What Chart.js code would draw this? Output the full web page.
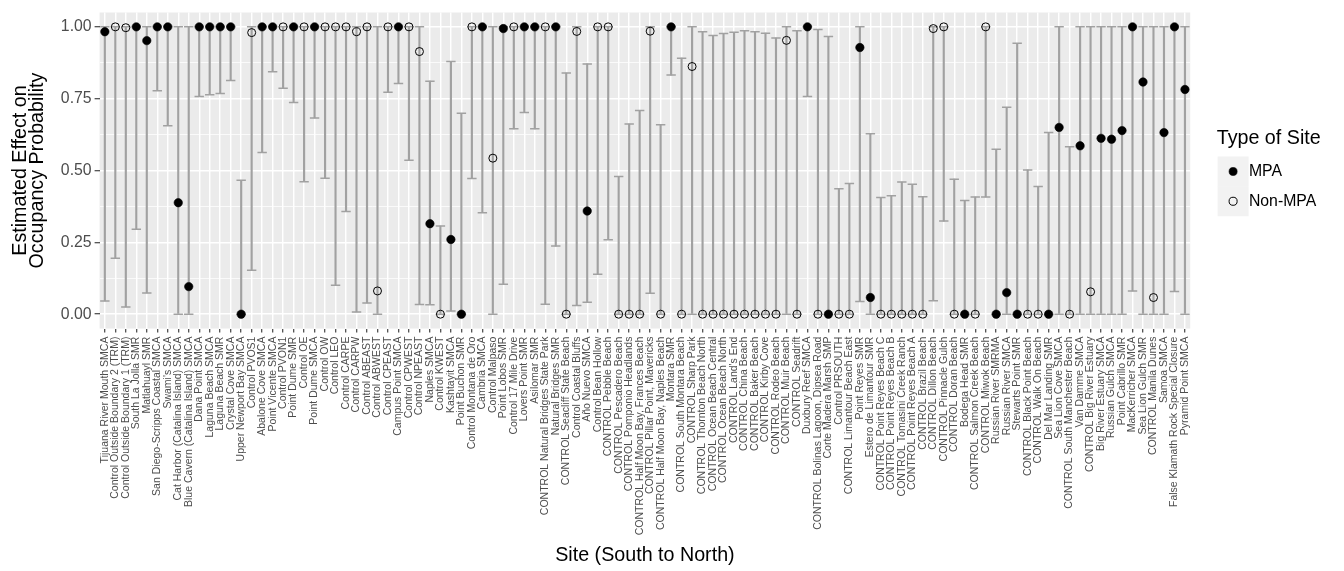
<!DOCTYPE html>
<html><head><meta charset="utf-8">
<script src="https://cdn.jsdelivr.net/npm/chart.js@4.4.1/dist/chart.umd.min.js"></script>
<style>html,body{margin:0;padding:0;background:#fff}#wrap{width:1344px;height:571px;position:relative}</style>
</head><body><div id="wrap"><canvas id="c"></canvas></div>
<script>
const sites = [
"Tijuana River Mouth SMCA","Control Outside Boundary 2 (TRM)","Control Outside Boundary 1 (TRM)","South La Jolla SMR","Matlahuayl SMR",
"San Diego-Scripps Coastal SMCA","Swami's SMCA","Cat Harbor (Catalina Island) SMCA","Blue Cavern (Catalina Island) SMCA","Dana Point SMCA",
"Laguna Beach SMCA","Laguna Beach SMR","Crystal Cove SMCA","Upper Newport Bay SMCA","Control PVOS1",
"Abalone Cove SMCA","Point Vicente SMCA","Control PVON1","Point Dume SMR","Control OE",
"Point Dume SMCA","Control OW","Control LEO","Control CARPE","Control CARPW",
"Control ABEAST","Control ABWEST","Control CPEAST","Campus Point SMCA","Control CPWEST",
"Control NPEAST","Naples SMCA","Control KWEST","Kashtayit SMCA","Point Buchon SMR",
"Control Montana de Oro","Cambria SMCA","Control Malpaso","Point Lobos SMR","Control 17 Mile Drive",
"Lovers Point SMR","Asilomar SMR","CONTROL Natural Bridges State Park","Natural Bridges SMR","CONTROL Seacliff State Beach",
"Control Coastal Bluffs","Año Nuevo SMCA","Control Bean Hollow","CONTROL Pebble Beach","CONTROL Pescadero Beach",
"CONTROL Pomponio Headlands","CONTROL Half Moon Bay, Frances Beach","CONTROL Pillar Point, Mavericks","CONTROL Half Moon Bay, Naples Beach","Montara SMR",
"CONTROL South Montara Beach","CONTROL Sharp Park","CONTROL Thornton Beach North","CONTROL Ocean Beach Central","CONTROL Ocean Beach North",
"CONTROL Land's End","CONTROL China Beach","CONTROL Baker Beach","CONTROL Kirby Cove","CONTROL Rodeo Beach",
"CONTROL Muir Beach","CONTROL Seadrift","Duxbury Reef SMCA","CONTROL Bolinas Lagoon, Dipsea Road","Corte Madera Marsh SMP",
"Control PRSOUTH","CONTROL Limantour Beach East","Point Reyes SMR","Estero de Limantour SMR","CONTROL Point Reyes Beach C",
"CONTROL Point Reyes Beach B","CONTROL Tomasini Creek Ranch","CONTROL Point Reyes Beach A","CONTROL Brazil Beach","CONTROL Dillon Beach",
"CONTROL Pinnacle Gulch","CONTROL Doran Beach","Bodega Head SMR","CONTROL Salmon Creek Beach","CONTROL Miwok Beach",
"Russian River SMRMA","Russian River SMCA","Stewarts Point SMR","CONTROL Black Point Beach","CONTROL Walk On Beach",
"Del Mar Landing SMR","Sea Lion Cove SMCA","CONTROL South Manchester Beach","Van Damme SMCA","CONTROL Big River Estuary",
"Big River Estuary SMCA","Russian Gulch SMCA","Point Cabrillo SMR","MacKerricher SMCA","Sea Lion Gulch SMR",
"CONTROL Manila Dunes","Samoa SMCA","False Klamath Rock Special Closure","Pyramid Point SMCA"
];
const M = "MPA", N = "Non-MPA";
const siteType = [
M,N,N,M,M,M,M,M,M,M,
M,M,M,M,N,M,M,N,M,N,
M,N,N,N,N,N,N,N,M,N,
N,M,N,M,M,N,M,N,M,N,
M,M,N,M,N,N,M,N,N,N,
N,N,N,N,M,N,N,N,N,N,
N,N,N,N,N,N,N,M,N,M,
N,N,M,M,N,N,N,N,N,N,
N,N,M,N,N,M,M,M,N,N,
M,M,N,M,N,M,M,M,M,M,
N,M,M,M
];
const estimate = [
0.983,1,0.997,1,0.952,1,1,0.388,0.096,1,
1,1,1,0,0.98,1,1,1,1,1,
1,1,1,1,0.983,1,0.081,1,1,1,
0.914,0.315,0,0.26,0,1,1,0.543,0.994,1,
1,1,1,1,0,0.984,0.359,1,1,0,
0,0,0.985,0,1,0,0.862,0,0,0,
0,0,0,0,0,0.953,0,1,0,0,
0,0,0.928,0.058,0,0,0,0,0,0.994,
1,0,0,0,1,0,0.075,0,0,0,
0,0.65,0,0.586,0.078,0.612,0.609,0.639,1,0.808,
0.058,0.632,1,0.782
];
const lower = [
0.046,0.195,0.025,0.296,0.074,0.778,0.656,0,0,0.758,
0.764,0.768,0.813,0,0.153,0.563,0.844,0.786,0.737,0.461,
0.683,0.473,0.101,0.357,0.008,0.039,0,0.772,0.803,0.536,
0.034,0.033,0,0.011,0,0.472,0.353,0,0.104,0.645,
0.702,0.645,0.035,0.237,0,0.03,0.042,0.139,0.259,0,
0,0,0.073,0,0.832,0,0,0,0,0,
0,0,0,0,0,0,0,0.758,0,0,
0,0,0.044,0,0,0,0,0,0,0.047,
0.324,0,0,0,0.408,0,0,0,0,0,
0,0,0,0,0,0,0,0,0.081,0,
0,0,0.079,0
];
const upper = [
1,1,1,1,1,1,1,1,1,1,
1,1,1,0.466,1,1,1,1,1,1,
1,1,1,1,1,1,1,1,1,1,
1,0.811,0.307,0.879,0.699,1,1,1,1,1,
1,1,1,1,0.839,1,0.871,1,1,0.479,
0.662,0.709,1,0.659,1,0.891,1,0.983,0.970,0.977,
0.981,0.986,0.983,0.978,0.961,1,0.986,1,0.991,0.966,
0.437,0.455,1,0.628,0.406,0.412,0.46,0.452,0.409,1,
1,0.47,0.396,0.408,1,0.574,0.72,0.943,0.502,0.444,
0.632,1,0.583,1,1,1,1,1,1,1,
1,1,1,1
];
const yMajorTicks = [0, 0.25, 0.5, 0.75, 1];
const yMinorTicks = [0.125, 0.375, 0.625, 0.875];

const FONT = "'Liberation Sans', Arial, sans-serif";
Chart.defaults.font.family = FONT;
const GREY = '#A1A1A1';
const LEGEND_FS = 15.8;

const mpaVals = estimate.map((v, i) => siteType[i] === M ? v : null);
const nonVals = estimate.map((v, i) => siteType[i] === N ? v : null);
const barVals = lower.map((lo, i) => [lo, upper[i]]);
const allYTicks = yMajorTicks.concat(yMinorTicks).sort((a, b) => a - b);
const isMajor = v => yMajorTicks.some(m => Math.abs(m - v) < 1e-9);

const panelBg = {
  id: 'panelBg',
  beforeDraw(chart) {
    const {ctx, chartArea: a} = chart;
    ctx.save();
    ctx.fillStyle = '#EBEBEB';
    ctx.fillRect(a.left, a.top, a.right - a.left, a.bottom - a.top);
    const lg = chart.legend;
    if (lg && lg.legendHitBoxes) {
      ctx.fillStyle = '#F2F2F2';
      const bw = LEGEND_FS;
      lg.legendHitBoxes.forEach(hb => {
        const cx = hb.left + bw / 2, cy = hb.top + LEGEND_FS / 2;
        ctx.fillRect(cx - 15.5, cy - 15, 31, 30);
      });
    }
    ctx.restore();
  }
};

new Chart(document.getElementById('c'), {
  type: 'bar',
  data: {
    labels: sites,
    datasets: [
      { type: 'line', label: 'MPA', data: mpaVals, showLine: false, pointStyle: 'circle',
        pointRadius: 4.2, borderWidth: 0.6, backgroundColor: '#000', borderColor: '#000', order: 0 },
      { type: 'line', label: 'Non-MPA', data: nonVals, showLine: false, pointStyle: 'circle',
        pointRadius: 4, borderWidth: 1, backgroundColor: 'rgba(0,0,0,0)', borderColor: '#000', order: 1 },
      { type: 'line', label: 'upper', data: upper, showLine: false, pointStyle: 'line',
        pointRadius: 4.7, borderWidth: 1.5, borderColor: GREY, backgroundColor: GREY, order: 2 },
      { type: 'line', label: 'lower', data: lower, showLine: false, pointStyle: 'line',
        pointRadius: 4.7, borderWidth: 1.5, borderColor: GREY, backgroundColor: GREY, order: 2 },
      { type: 'bar', label: 'interval', data: barVals, backgroundColor: GREY, borderWidth: 0,
        barThickness: 1.5, order: 3 }
    ]
  },
  options: {
    responsive: true, maintainAspectRatio: false, animation: false, events: [],
    layout: { padding: { left: 11.4, top: 10.4, right: 17.8, bottom: 4 } },
    plugins: {
      tooltip: { enabled: false },
      legend: {
        position: 'right', align: 'center', fullSize: false,
        title: { display: true, text: 'Type of Site', color: '#000', position: 'center',
          font: { size: 19.7, lineHeight: 1 }, padding: { top: 11, bottom: 1 } },
        labels: { usePointStyle: true, boxHeight: 5.7, padding: 14, color: '#000',
          font: { size: LEGEND_FS }, filter: item => item.text === 'MPA' || item.text === 'Non-MPA' }
      }
    },
    scales: {
      x: {
        type: 'category', offset: true,
        grid: { offset: false, color: '#FFFFFF', lineWidth: 1.45, tickColor: '#333333', tickWidth: 1.1, tickLength: 4 },
        border: { display: false },
        ticks: { autoSkip: false, minRotation: 90, maxRotation: 90, color: '#4D4D4D', font: { size: 10.5 }, padding: 4 },
        title: { display: true, text: 'Site (South to North)', color: '#000', font: { size: 19.7, lineHeight: 1.2 }, padding: { top: 4, bottom: 0 } }
      },
      y: {
        type: 'linear', min: -0.05, max: 1.05,
        afterBuildTicks: s => { s.ticks = allYTicks.map(v => ({ value: v })); },
        grid: {
          color: '#FFFFFF',
          lineWidth: c => (c.tick && isMajor(c.tick.value)) ? 1.45 : 0.73,
          tickColor: c => (c.tick && isMajor(c.tick.value)) ? '#333333' : 'rgba(0,0,0,0)',
          tickLength: 5, tickWidth: 1.1
        },
        border: { display: false },
        ticks: { color: '#4D4D4D', font: { size: 15.8 }, padding: 3,
          callback: v => isMajor(v) ? Number(v).toFixed(2) : '' },
        title: { display: true, text: ['Estimated Effect on', 'Occupancy Probability'], color: '#000',
          font: { size: 19.7, lineHeight: 0.9 }, padding: { top: 0, bottom: 11 } }
      },
      gap: {
        type: 'linear', position: 'right', display: true,
        grid: { display: false, drawTicks: false }, border: { display: false }, ticks: { display: false },
        afterFit: s => { s.width = 21; }
      }
    }
  },
  plugins: [panelBg]
});
</script>
</body></html>
